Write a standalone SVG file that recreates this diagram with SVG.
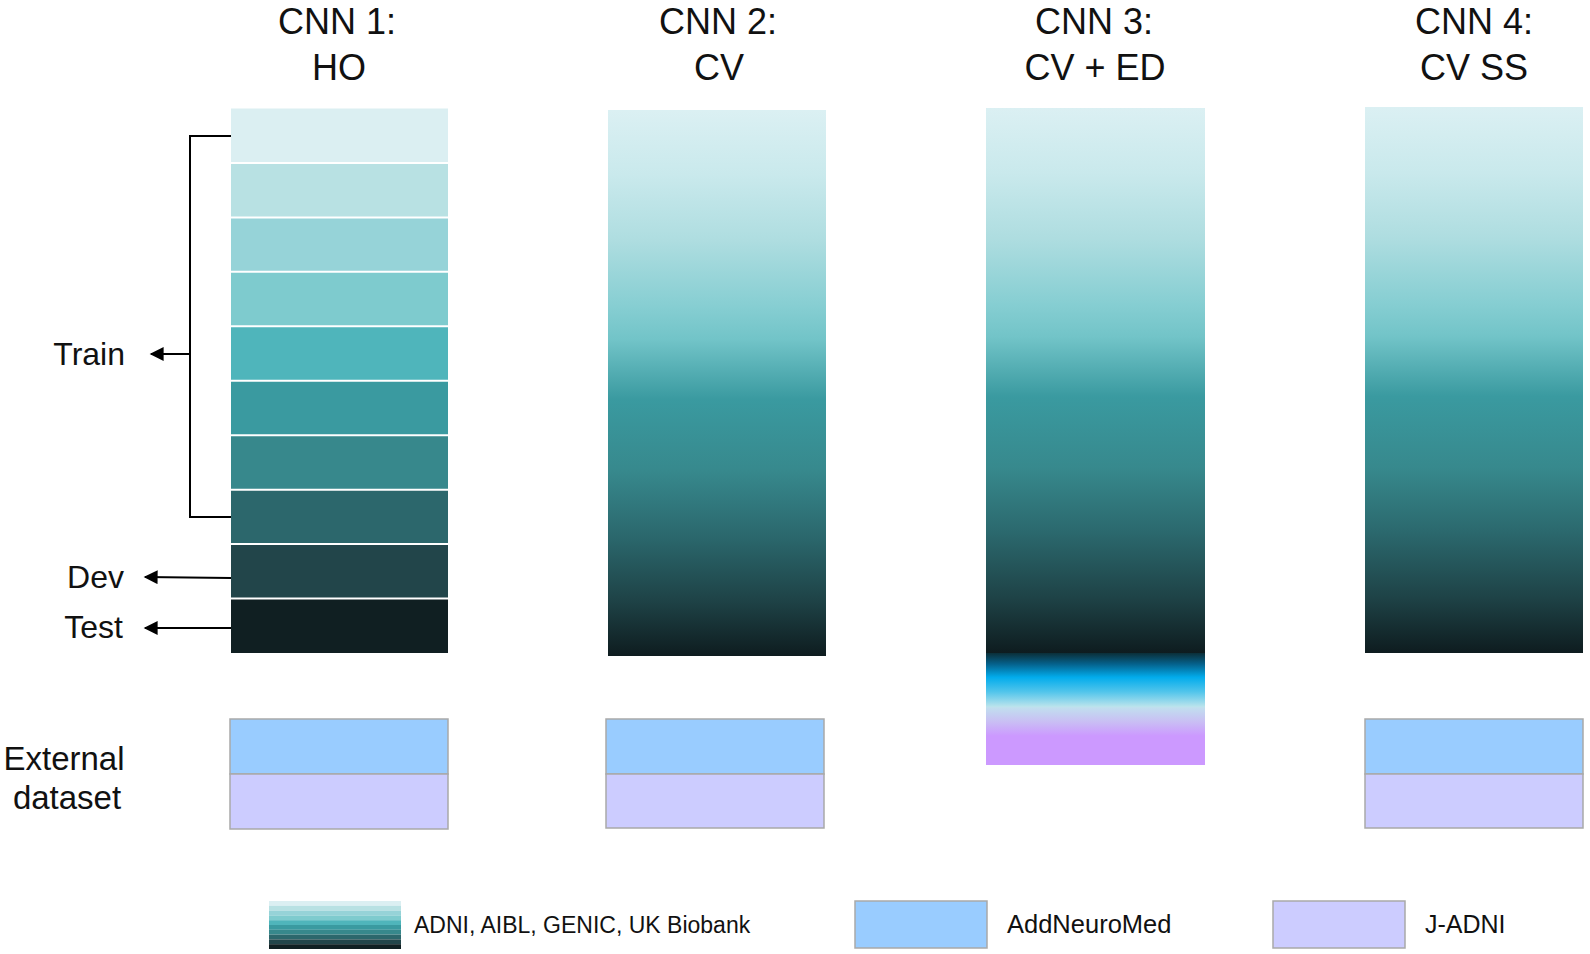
<svg xmlns="http://www.w3.org/2000/svg" width="1590" height="954" viewBox="0 0 1590 954">
<defs>
<style>
.title{font-family:"Liberation Sans",Arial,sans-serif;font-size:36px;fill:#111;text-anchor:middle}
.side{font-family:"Liberation Sans",Arial,sans-serif;font-size:32px;fill:#111}
.leg{font-family:"Liberation Sans",Arial,sans-serif;font-size:24px;fill:#111}
.ext{stroke:#a9a9a9;stroke-width:1.5}
.blue{fill:#99ccff}
.purple{fill:#ccccff}
.line{stroke:#000;stroke-width:2;fill:none}
.sep{stroke:#fff;stroke-width:2}
</style>
<linearGradient id="teal" x1="0" y1="0" x2="0" y2="1">
<stop offset="0" stop-color="#dbf0f3"/>
<stop offset="0.12" stop-color="#c9e9ec"/>
<stop offset="0.24" stop-color="#aedde0"/>
<stop offset="0.36" stop-color="#86ced2"/>
<stop offset="0.42" stop-color="#72c4c8"/>
<stop offset="0.53" stop-color="#3a9aa0"/>
<stop offset="0.66" stop-color="#37898d"/>
<stop offset="0.78" stop-color="#2b686d"/>
<stop offset="0.9" stop-color="#1e4246"/>
<stop offset="1" stop-color="#0e1c1f"/>
</linearGradient>
<linearGradient id="cyan" x1="0" y1="0" x2="0" y2="1">
<stop offset="0" stop-color="#0b2f38"/>
<stop offset="0.2" stop-color="#05608a"/>
<stop offset="0.45" stop-color="#02acec"/>
<stop offset="0.72" stop-color="#52c5eb"/>
<stop offset="1" stop-color="#bde4ec"/>
</linearGradient>
<linearGradient id="violet" x1="0" y1="0" x2="0" y2="1">
<stop offset="0" stop-color="#c0e0ee"/>
<stop offset="0.25" stop-color="#c9bff4"/>
<stop offset="0.5" stop-color="#cc99ff"/>
<stop offset="1" stop-color="#cc99ff"/>
</linearGradient>
<marker id="arr" viewBox="0 0 10 10" refX="9" refY="5" markerWidth="8" markerHeight="7" orient="auto" markerUnits="strokeWidth">
<path d="M0,0 L10,5 L0,10 z" fill="#000"/>
</marker>
</defs>
<rect width="1590" height="954" fill="#fff"/>

<g id="cnn1">
<text class="title" x="337" y="34">CNN 1:</text>
<text class="title" x="339" y="80">HO</text>
<rect x="231" y="108.5" width="217" height="54.45" fill="#dbeff2"/>
<rect x="231" y="162.95" width="217" height="54.45" fill="#b8e1e3"/>
<rect x="231" y="217.4" width="217" height="54.45" fill="#96d3d8"/>
<rect x="231" y="271.85" width="217" height="54.45" fill="#7ecbce"/>
<rect x="231" y="326.3" width="217" height="54.45" fill="#4fb5bb"/>
<rect x="231" y="380.75" width="217" height="54.45" fill="#3a9aa0"/>
<rect x="231" y="435.2" width="217" height="54.45" fill="#37888c"/>
<rect x="231" y="489.65" width="217" height="54.45" fill="#2c676c"/>
<rect x="231" y="544.1" width="217" height="54.45" fill="#22454a"/>
<rect x="231" y="598.55" width="217" height="54.45" fill="#101f22"/>
<g class="sep">
<line x1="231" y1="162.95" x2="448" y2="162.95"/>
<line x1="231" y1="217.4" x2="448" y2="217.4"/>
<line x1="231" y1="271.85" x2="448" y2="271.85"/>
<line x1="231" y1="326.3" x2="448" y2="326.3"/>
<line x1="231" y1="380.75" x2="448" y2="380.75"/>
<line x1="231" y1="435.2" x2="448" y2="435.2"/>
<line x1="231" y1="489.65" x2="448" y2="489.65"/>
<line x1="231" y1="544.1" x2="448" y2="544.1"/>
<line x1="231" y1="598.55" x2="448" y2="598.55"/>
</g>
<rect class="ext blue" x="230" y="719" width="218" height="55"/>
<rect class="ext purple" x="230" y="774" width="218" height="55"/>
</g>

<g id="cnn2">
<text class="title" x="718" y="34">CNN 2:</text>
<text class="title" x="719" y="80">CV</text>
<rect x="608" y="110" width="218" height="546" fill="url(#teal)"/>
<rect class="ext blue" x="606" y="719" width="218" height="55"/>
<rect class="ext purple" x="606" y="774" width="218" height="54"/>
</g>

<g id="cnn3">
<text class="title" x="1094" y="34">CNN 3:</text>
<text class="title" x="1095" y="80">CV + ED</text>
<rect x="986" y="108" width="219" height="545" fill="url(#teal)"/>
<rect x="986" y="653" width="219" height="54" fill="url(#cyan)"/>
<rect x="986" y="707" width="219" height="58" fill="url(#violet)"/>
</g>

<g id="cnn4">
<text class="title" x="1474" y="34">CNN 4:</text>
<text class="title" x="1474" y="80">CV SS</text>
<rect x="1365" y="107" width="218" height="546" fill="url(#teal)"/>
<rect class="ext blue" x="1365" y="719" width="218" height="55"/>
<rect class="ext purple" x="1365" y="774" width="218" height="54"/>
</g>

<g id="labels">
<text class="side" x="125" y="365" text-anchor="end">Train</text>
<text class="side" x="124" y="588" text-anchor="end">Dev</text>
<text class="side" x="123" y="638" text-anchor="end">Test</text>
<text class="side" x="64" y="770" text-anchor="middle" style="font-size:33px">External</text>
<text class="side" x="67" y="809" text-anchor="middle" style="font-size:33px">dataset</text>
</g>

<g id="connectors">
<polyline class="line" points="231,136 190,136 190,517 231,517"/>
<line class="line" x1="190" y1="354" x2="151" y2="354" marker-end="url(#arr)"/>
<line class="line" x1="231" y1="578" x2="145" y2="577" marker-end="url(#arr)"/>
<line class="line" x1="231" y1="628" x2="145" y2="628" marker-end="url(#arr)"/>
</g>

<g id="legend">
<g id="legend-adni">
<rect x="269" y="901" width="132" height="4.8" fill="#dbeff2"/>
<rect x="269" y="905.8" width="132" height="4.8" fill="#b8e1e3"/>
<rect x="269" y="910.6" width="132" height="4.8" fill="#96d3d8"/>
<rect x="269" y="915.4" width="132" height="4.8" fill="#7ecbce"/>
<rect x="269" y="920.2" width="132" height="4.8" fill="#4fb5bb"/>
<rect x="269" y="925" width="132" height="4.8" fill="#3a9aa0"/>
<rect x="269" y="929.8" width="132" height="4.8" fill="#37888c"/>
<rect x="269" y="934.6" width="132" height="4.8" fill="#2c676c"/>
<rect x="269" y="939.4" width="132" height="4.8" fill="#22454a"/>
<rect x="269" y="944.2" width="132" height="4.8" fill="#101f22"/>
<text class="leg" x="414" y="933" style="font-size:23px">ADNI, AIBL, GENIC, UK Biobank</text>
</g>
<g id="legend-addneuromed">
<rect class="ext blue" x="855" y="901" width="132" height="47"/>
<text class="leg" x="1007" y="933" style="font-size:25.5px">AddNeuroMed</text>
</g>
<g id="legend-jadni">
<rect class="ext purple" x="1273" y="901" width="132" height="47"/>
<text class="leg" x="1425" y="933" style="font-size:25px">J-ADNI</text>
</g>
</g>
</svg>
